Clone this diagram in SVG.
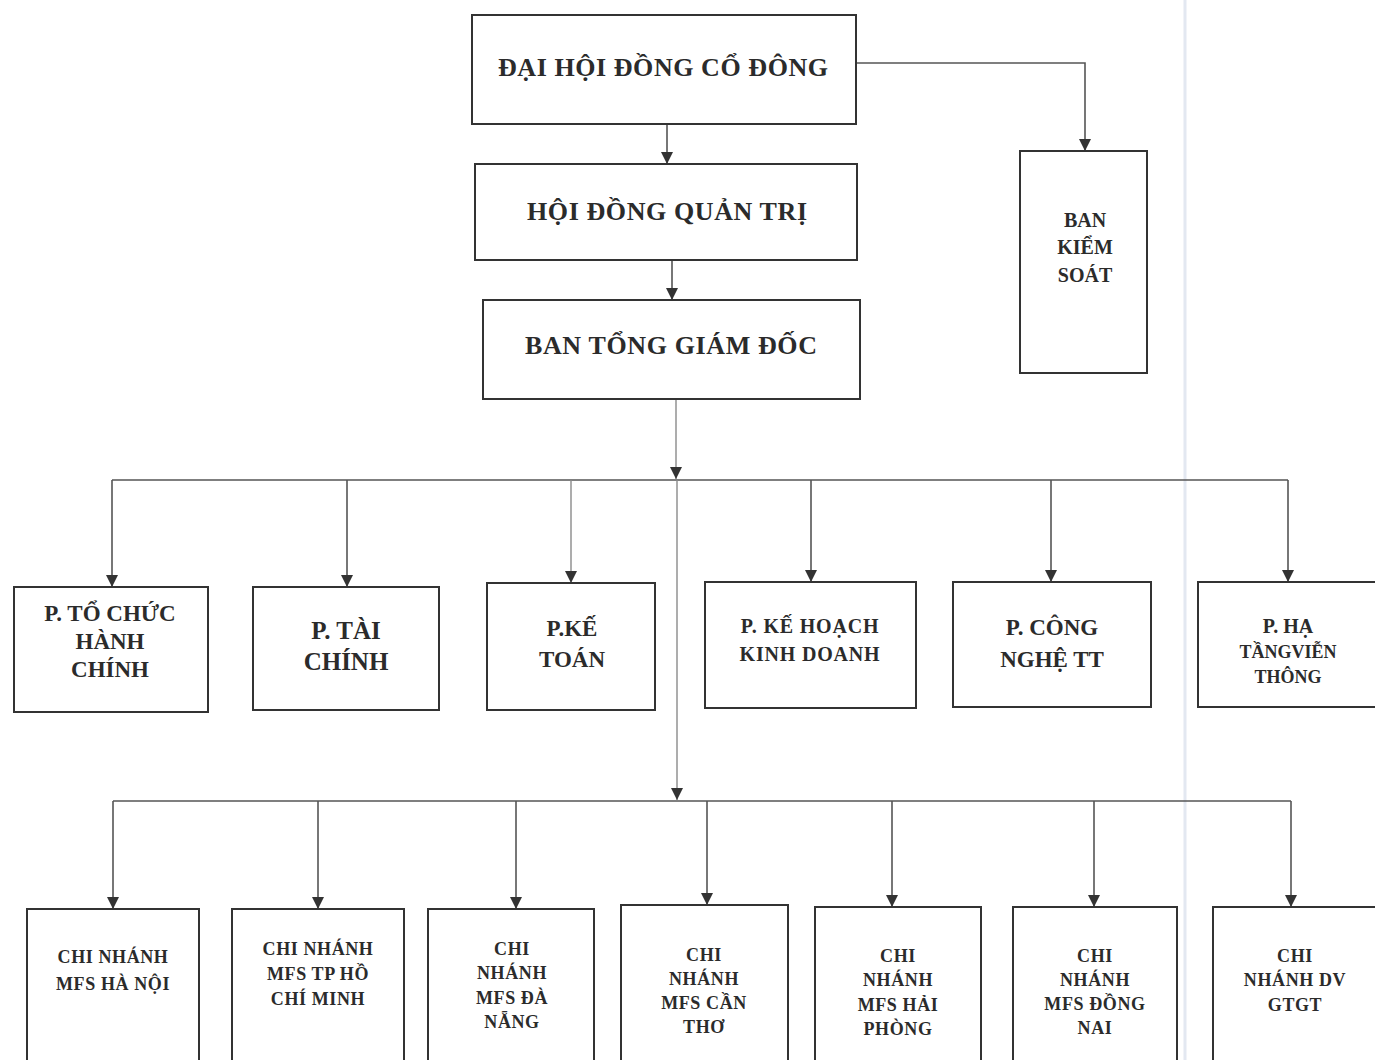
<svg xmlns="http://www.w3.org/2000/svg" width="1375" height="1060" viewBox="0 0 1375 1060">
<defs>
<marker id="arr" viewBox="0 0 10 10" refX="10" refY="5" markerWidth="12" markerHeight="12" markerUnits="userSpaceOnUse" orient="auto">
<path d="M0,0 L10,5 L0,10 Z" fill="#333"/>
</marker>
<style>
.box{fill:#fff;stroke:#333;stroke-width:2}
.t{font-family:"Liberation Serif","Times New Roman",serif;font-weight:bold;fill:#2b2b2b;text-anchor:middle}
.big{font-size:26px}
.mid{font-size:23px}
.sm{font-size:20px}
.xs{font-size:18px;letter-spacing:0.6px}
.c{fill:none;stroke:#555;stroke-width:1.6}
.cl{fill:none;stroke:#8a8a8a;stroke-width:1.4}
</style>
</defs>
<rect width="1375" height="1060" fill="#fff"/>
<line x1="1185" y1="0" x2="1185" y2="1060" stroke="#e3e8f1" stroke-width="3"/>

<g id="connectors">
<line class="c" x1="667" y1="124" x2="667" y2="164" marker-end="url(#arr)"/>
<path class="c" d="M856,63 H1085 V151" marker-end="url(#arr)"/>
<line class="c" x1="672" y1="260" x2="672" y2="300" marker-end="url(#arr)"/>
<line class="cl" x1="676" y1="399" x2="676" y2="479" marker-end="url(#arr)"/>
<path class="c" d="M112,480 H1288"/>
<line class="c" x1="112" y1="480" x2="112" y2="587" marker-end="url(#arr)"/>
<line class="c" x1="347" y1="480" x2="347" y2="587" marker-end="url(#arr)"/>
<line class="cl" x1="571" y1="480" x2="571" y2="583" marker-end="url(#arr)"/>
<line class="c" x1="811" y1="480" x2="811" y2="582" marker-end="url(#arr)"/>
<line class="c" x1="1051" y1="480" x2="1051" y2="582" marker-end="url(#arr)"/>
<line class="c" x1="1288" y1="480" x2="1288" y2="582" marker-end="url(#arr)"/>
<line class="cl" x1="677" y1="480" x2="677" y2="800" marker-end="url(#arr)"/>
<path class="c" d="M113,801 H1291"/>
<line class="c" x1="113" y1="801" x2="113" y2="909" marker-end="url(#arr)"/>
<line class="c" x1="318" y1="801" x2="318" y2="909" marker-end="url(#arr)"/>
<line class="c" x1="516" y1="801" x2="516" y2="909" marker-end="url(#arr)"/>
<line class="c" x1="707" y1="801" x2="707" y2="905" marker-end="url(#arr)"/>
<line class="c" x1="892" y1="801" x2="892" y2="907" marker-end="url(#arr)"/>
<line class="c" x1="1094" y1="801" x2="1094" y2="907" marker-end="url(#arr)"/>
<line class="c" x1="1291" y1="801" x2="1291" y2="907" marker-end="url(#arr)"/>
</g>

<g id="dhdcd">
<rect class="box" x="472" y="15" width="384" height="109"/>
<text class="t big" x="663" y="76" textLength="330" lengthAdjust="spacing">ĐẠI HỘI ĐỒNG CỔ ĐÔNG</text>
</g>
<g id="hdqt">
<rect class="box" x="475" y="164" width="382" height="96"/>
<text class="t big" x="667" y="220" textLength="280" lengthAdjust="spacing">HỘI ĐỒNG QUẢN TRỊ</text>
</g>
<g id="btgd">
<rect class="box" x="483" y="300" width="377" height="99"/>
<text class="t big" x="671" y="354" textLength="292" lengthAdjust="spacing">BAN TỔNG GIÁM ĐỐC</text>
</g>
<g id="bks">
<rect class="box" x="1020" y="151" width="127" height="222"/>
<text class="t sm" x="1085" y="227">BAN</text>
<text class="t sm" x="1085" y="254">KIỂM</text>
<text class="t sm" x="1085" y="282">SOÁT</text>
</g>

<g id="p-tchc">
<rect class="box" x="14" y="587" width="194" height="125"/>
<text class="t mid" x="110" y="621">P. TỔ CHỨC</text>
<text class="t mid" x="110" y="649">HÀNH</text>
<text class="t mid" x="110" y="677">CHÍNH</text>
</g>
<g id="p-tc">
<rect class="box" x="253" y="587" width="186" height="123"/>
<text class="t" style="font-size:25px" x="346" y="639">P. TÀI</text>
<text class="t" style="font-size:25px" x="346" y="670">CHÍNH</text>
</g>
<g id="p-kt">
<rect class="box" x="487" y="583" width="168" height="127"/>
<text class="t mid" x="572" y="636">P.KẾ</text>
<text class="t mid" x="572" y="667">TOÁN</text>
</g>
<g id="p-khkd">
<rect class="box" x="705" y="582" width="211" height="126"/>
<text class="t sm" x="810" y="633" style="letter-spacing:0.8px">P. KẾ HOẠCH</text>
<text class="t sm" x="810" y="661" style="letter-spacing:0.8px">KINH DOANH</text>
</g>
<g id="p-cntt">
<rect class="box" x="953" y="582" width="198" height="125"/>
<text class="t mid" x="1052" y="635">P. CÔNG</text>
<text class="t mid" x="1052" y="667">NGHỆ TT</text>
</g>
<g id="p-htvt">
<rect class="box" x="1198" y="582" width="182" height="125"/>
<text class="t" style="font-size:20px" x="1288" y="633">P. HẠ</text>
<text class="t" style="font-size:18px" x="1288" y="658">TẦNGVIỄN</text>
<text class="t" style="font-size:18px" x="1288" y="683">THÔNG</text>
</g>

<g id="cn-hn">
<rect class="box" x="27" y="909" width="172" height="170"/>
<text class="t xs" x="113" y="963">CHI NHÁNH</text>
<text class="t xs" x="113" y="990">MFS HÀ NỘI</text>
</g>
<g id="cn-hcm">
<rect class="box" x="232" y="909" width="172" height="170"/>
<text class="t xs" x="318" y="955">CHI NHÁNH</text>
<text class="t xs" x="318" y="980">MFS TP HỒ</text>
<text class="t xs" x="318" y="1005">CHÍ MINH</text>
</g>
<g id="cn-dn">
<rect class="box" x="428" y="909" width="166" height="170"/>
<text class="t xs" x="512" y="955">CHI</text>
<text class="t xs" x="512" y="979">NHÁNH</text>
<text class="t xs" x="512" y="1004">MFS ĐÀ</text>
<text class="t xs" x="512" y="1028">NẴNG</text>
</g>
<g id="cn-ct">
<rect class="box" x="621" y="905" width="167" height="170"/>
<text class="t xs" x="704" y="961">CHI</text>
<text class="t xs" x="704" y="985">NHÁNH</text>
<text class="t xs" x="704" y="1009">MFS CẦN</text>
<text class="t xs" x="704" y="1033">THƠ</text>
</g>
<g id="cn-hp">
<rect class="box" x="815" y="907" width="166" height="170"/>
<text class="t xs" x="898" y="962">CHI</text>
<text class="t xs" x="898" y="986">NHÁNH</text>
<text class="t xs" x="898" y="1011">MFS HẢI</text>
<text class="t xs" x="898" y="1035">PHÒNG</text>
</g>
<g id="cn-dnai">
<rect class="box" x="1013" y="907" width="164" height="170"/>
<text class="t xs" x="1095" y="962">CHI</text>
<text class="t xs" x="1095" y="986">NHÁNH</text>
<text class="t xs" x="1095" y="1010">MFS ĐỒNG</text>
<text class="t xs" x="1095" y="1034">NAI</text>
</g>
<g id="cn-gtgt">
<rect class="box" x="1213" y="907" width="170" height="170"/>
<text class="t xs" x="1295" y="962">CHI</text>
<text class="t xs" x="1295" y="986">NHÁNH DV</text>
<text class="t xs" x="1295" y="1011">GTGT</text>
</g>
</svg>
